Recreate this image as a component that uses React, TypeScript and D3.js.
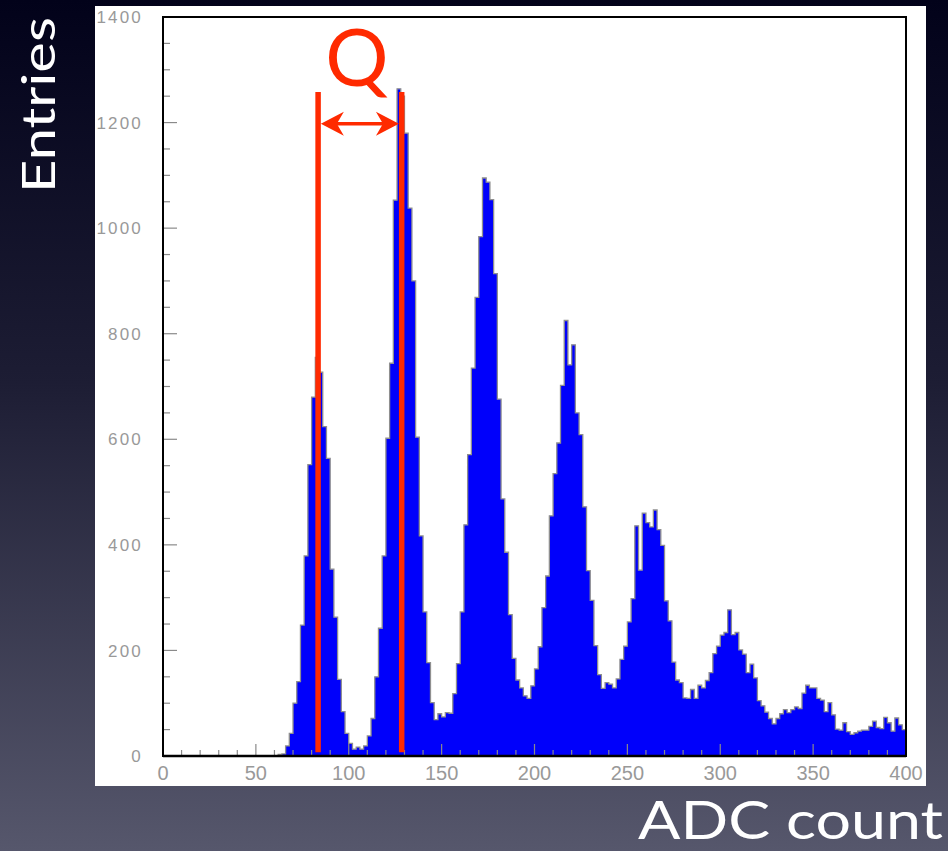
import React from 'react';
import * as d3 from 'd3';

// Histogram of ADC counts, 2-count wide bins from 0 to 400
const BIN_WIDTH = 2;
const X_DOMAIN = [0, 400];
const Y_DOMAIN = [0, 1400];
const X_TICKS = [0, 50, 100, 150, 200, 250, 300, 350, 400];
const Y_TICKS = [0, 200, 400, 600, 800, 1000, 1200, 1400];

const counts: number[] = [
  // 0 - 58
  0, 0, 0, 0, 0, 0, 0, 0, 0, 0, 0, 0, 0, 0, 0, 0, 0, 0, 0, 0, 0, 0, 0, 0, 0, 0, 0, 0, 0, 0,
  // 60 - 98
  0, 3, 4, 19, 43, 100, 141, 248, 379, 552, 680, 755, 727, 624, 564, 354, 263, 145, 84, 43,
  // 100 - 138
  24, 13, 17, 13, 19, 38, 71, 150, 242, 379, 602, 744, 1053, 1264, 1250, 1180, 1038, 900, 604, 417,
  // 140 - 178
  273, 177, 101, 69, 80, 74, 82, 81, 118, 175, 273, 438, 571, 735, 869, 984, 1095, 1087, 1054, 914,
  // 180 - 218
  676, 487, 386, 268, 185, 144, 129, 114, 109, 133, 165, 207, 281, 341, 455, 535, 593, 702, 825, 741,
  // 220 - 258
  779, 650, 609, 472, 351, 295, 209, 154, 128, 139, 136, 129, 146, 183, 208, 254, 298, 436, 352, 460,
  // 260 - 298
  442, 434, 466, 429, 399, 294, 256, 178, 144, 139, 110, 109, 126, 109, 134, 129, 143, 158, 194, 208,
  // 300 - 338
  229, 234, 277, 230, 234, 201, 193, 158, 174, 148, 105, 95, 83, 71, 61, 71, 80, 88, 82, 88,
  // 340 - 378
  93, 90, 119, 134, 129, 129, 109, 106, 84, 101, 78, 51, 49, 63, 46, 41, 44, 47, 49, 49,
  // 380 - 398
  56, 66, 54, 52, 73, 63, 47, 72, 59, 50,
];

// Peak positions marked by the red lines, and the gain arrow between them
const qMarkers = [83.5, 128.5];
const qLineRange = [7, 1258];
const qArrowLevel = 1198;
const qLabel = 'Q';
const xTitle = 'ADC count';
const yTitle = 'Entries';

const RED = '#ff2a00';

function arrowHead(tx: number, ty: number, dir: number) {
  const L = 23;
  const hw = 12;
  const notch = 7;
  const p = d3.path();
  p.moveTo(tx, ty);
  p.lineTo(tx - dir * L, ty - hw);
  p.lineTo(tx - dir * (L - notch), ty);
  p.lineTo(tx - dir * L, ty + hw);
  p.closePath();
  return p.toString();
}

export default function App() {
  const W = 948;
  const H = 851;
  const plot = { left: 163, right: 906, top: 17, bottom: 756 };

  const x = d3.scaleLinear().domain(X_DOMAIN).range([plot.left, plot.right]);
  const y = d3.scaleLinear().domain(Y_DOMAIN).range([plot.bottom, plot.top]);

  const pts: [number, number][] = counts.map((c, i) => [i * BIN_WIDTH, c]);
  pts.push([X_DOMAIN[1], counts[counts.length - 1]]);

  const area = d3
    .area<[number, number]>()
    .x((d) => x(d[0]))
    .y0(y(0))
    .y1((d) => y(d[1]))
    .curve(d3.curveStepAfter);
  const outline = d3
    .line<[number, number]>()
    .x((d) => x(d[0]))
    .y((d) => y(d[1]))
    .curve(d3.curveStepAfter);

  const yMinor = d3.range(Y_DOMAIN[0], Y_DOMAIN[1] + 1, 50);
  const xMinor = d3.range(X_DOMAIN[0], X_DOMAIN[1] + 1, 10);

  const xl = x(qMarkers[0]);
  const xr = x(qMarkers[1]);
  const lineW = 5.5;
  const ay = y(qArrowLevel);
  const tipL = xl + lineW / 2;
  const tipR = xr - lineW / 2;

  return (
    <svg
      width={W}
      height={H}
      style={{ position: 'absolute', left: 0, top: 0, display: 'block' }}
    >
      <defs>
        <linearGradient id="bg" x1="0" y1="0" x2="0" y2="1">
          <stop offset="0" stopColor="#02021a" />
          <stop offset="0.45" stopColor="#1d1d34" />
          <stop offset="1" stopColor="#56576c" />
        </linearGradient>
      </defs>
      <rect x={0} y={0} width={W} height={H} fill="url(#bg)" />

      {/* white canvas */}
      <rect x={95} y={6} width={831} height={780} fill="#ffffff" />

      {/* histogram */}
      <path d={area(pts) || ''} fill="#0000fb" />
      <path d={outline(pts) || ''} fill="none" stroke="#8f8f8f" strokeWidth={1.3} />

      {/* ticks */}
      <g stroke="#8a8a8a" strokeWidth={1.2}>
        {yMinor.map((v) => (
          <line
            key={'ym' + v}
            x1={plot.left}
            x2={plot.left + (v % 200 === 0 ? 14 : 7)}
            y1={y(v)}
            y2={y(v)}
          />
        ))}
        {xMinor.map((v) => (
          <line
            key={'xm' + v}
            x1={x(v)}
            x2={x(v)}
            y1={plot.bottom}
            y2={plot.bottom - (v % 50 === 0 ? 12 : 6)}
          />
        ))}
      </g>

      {/* frame */}
      <rect
        x={plot.left}
        y={plot.top}
        width={plot.right - plot.left}
        height={plot.bottom - plot.top}
        fill="none"
        stroke="#000"
        strokeWidth={2}
      />
      <line x1={plot.left} x2={plot.right} y1={plot.bottom} y2={plot.bottom} stroke="#000" strokeWidth={2.6} />

      {/* tick labels */}
      <g fill="#999999" fontFamily="'Liberation Sans', Arial, sans-serif">
        {Y_TICKS.map((v) => (
          <text
            key={'yl' + v}
            x={143}
            y={y(v)}
            dy="0.36em"
            fontSize={17}
            letterSpacing={2.2}
            textAnchor="end"
          >
            {v}
          </text>
        ))}
        {X_TICKS.map((v) => (
          <text key={'xl' + v} x={x(v)} y={780} fontSize={20} textAnchor="middle">
            {v}
          </text>
        ))}
      </g>

      {/* Q markers */}
      {qMarkers.map((m) => (
        <line
          key={'q' + m}
          x1={x(m)}
          x2={x(m)}
          y1={y(qLineRange[0])}
          y2={y(qLineRange[1])}
          stroke={RED}
          strokeWidth={lineW}
        />
      ))}
      <line x1={tipL + 12} x2={tipR - 12} y1={ay} y2={ay} stroke={RED} strokeWidth={3.5} />
      <path d={arrowHead(tipL, ay, -1)} fill={RED} />
      <path d={arrowHead(tipR, ay, 1)} fill={RED} />
      <text
        x={(xl + xr) / 2 - 3}
        y={86}
        fill={RED}
        fontSize={79}
        fontFamily="Lato, 'Open Sans', sans-serif"
        textAnchor="middle"
      >
        {qLabel}
      </text>

      {/* axis titles */}
      <text
        transform="translate(55,105) rotate(-90)"
        fill="#ffffff"
        fontSize={47}
        fontFamily="Lato, 'Open Sans', sans-serif"
        textAnchor="middle"
        textLength={176}
        lengthAdjust="spacingAndGlyphs"
      >
        {yTitle}
      </text>
      <text
        x={638}
        y={839}
        fill="#ffffff"
        fontSize={52}
        fontFamily="Lato, 'Open Sans', sans-serif"
        textLength={305}
        lengthAdjust="spacingAndGlyphs"
      >
        {xTitle}
      </text>
    </svg>
  );
}
